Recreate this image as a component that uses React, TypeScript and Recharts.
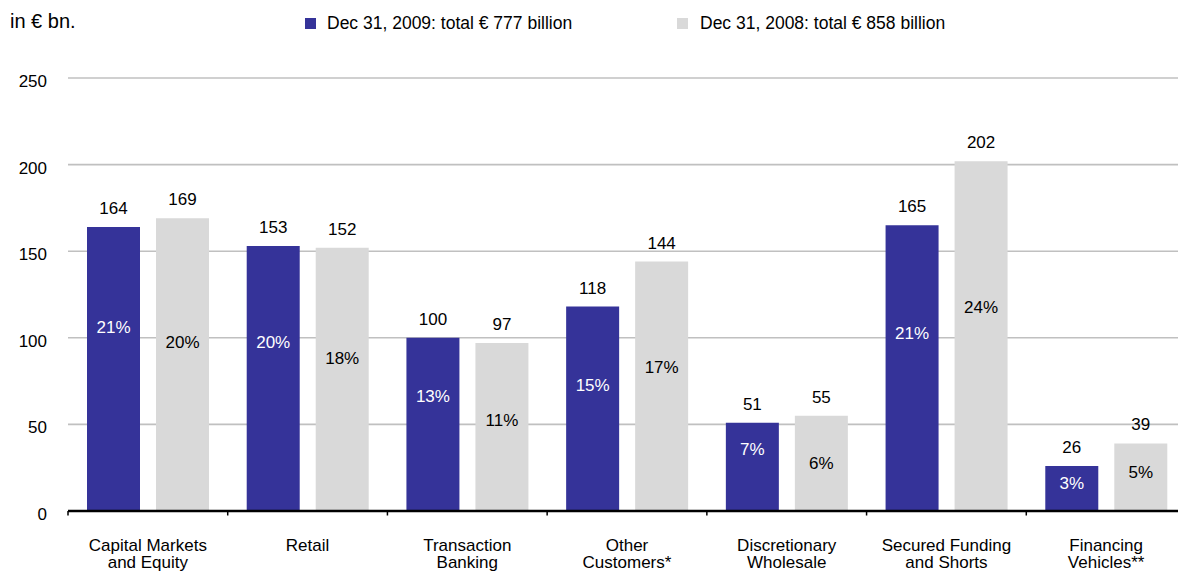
import React from "react";
import { BarChart, Bar, XAxis, YAxis, CartesianGrid, LabelList } from "recharts";

const catLine1 = ["Capital Markets", "Retail", "Transaction", "Other", "Discretionary", "Secured Funding", "Financing"];
const catLine2 = ["and Equity", "", "Banking", "Customers*", "Wholesale", "and Shorts", "Vehicles**"];
const values2009 = [164, 153, 100, 118, 51, 165, 26];
const values2008 = [169, 152, 97, 144, 55, 202, 39];
const share2009 = ["21%", "20%", "13%", "15%", "7%", "21%", "3%"];
const share2008 = ["20%", "18%", "11%", "17%", "6%", "24%", "5%"];
// level (in € bn.) at which each share label sits inside its bar
const shareAt2009 = [106.5, 97.8, 66.5, 72.7, 36.1, 103.0, 16.4];
const shareAt2008 = [97.8, 88.2, 52.5, 83.0, 27.9, 118.0, 22.8];
const yTicks = [0, 50, 100, 150, 200, 250];
const seriesNames = ["Dec 31, 2009: total € 777 billion", "Dec 31, 2008: total € 858 billion"];
const unitLabel = "in € bn.";

const BLUE = "#353399";
const GREY = "#d9d9d9";
const FONT = "'Liberation Sans', Arial, Helvetica, sans-serif";

const rows = catLine1.map((c, i) => ({
  cat: c,
  line2: catLine2[i],
  v2009: values2009[i],
  v2008: values2008[i],
  s2009: share2009[i],
  s2008: share2008[i],
  a2009: shareAt2009[i],
  a2008: shareAt2008[i],
}));

const XTick = (props: any) => {
  const { x, y, payload, index } = props;
  const half = payload && typeof payload.offset === "number" ? payload.offset : 0;
  const last = index === rows.length - 1;
  return (
    <g>
      <line x1={x - half} x2={x - half} y1={y} y2={y + 4.5} stroke="#000" strokeWidth={1.5} />
      {last && <line x1={x + half} x2={x + half} y1={y} y2={y + 4.5} stroke="#000" strokeWidth={1.5} />}
      <text x={x} y={y + 40} textAnchor="middle" fontSize={17} fill="#000" fontFamily={FONT}>
        {rows[index]?.cat}
      </text>
      <text x={x} y={y + 57} textAnchor="middle" fontSize={17} fill="#000" fontFamily={FONT}>
        {rows[index]?.line2}
      </text>
    </g>
  );
};

const YTick = (props: any) => {
  const { x, y, payload } = props;
  return (
    <text x={x - 21} y={y + 9} textAnchor="end" fontSize={17} fill="#000" fontFamily={FONT}>
      {payload.value}
    </text>
  );
};

const topLabel = (props: any) => {
  const { x, y, width, value } = props;
  return (
    <text x={Number(x) + Number(width) / 2} y={Number(y) - 13} textAnchor="middle" fontSize={17} fill="#000" fontFamily={FONT}>
      {value}
    </text>
  );
};

const shareLabel = (valKey: string, atKey: string, shareKey: string, color: string) => (props: any) => {
  const { x, y, width, height, index } = props;
  const row: any = rows[index];
  if (!row) return null;
  const h = Number(height);
  const py = Number(y) + h - (row[atKey] / row[valKey]) * h;
  return (
    <text x={Number(x) + Number(width) / 2} y={py + 6.2} textAnchor="middle" fontSize={17} fill={color} fontFamily={FONT}>
      {row[shareKey]}
    </text>
  );
};

export default function App() {
  return (
    <div style={{ position: "absolute", left: 0, top: 0, width: 1178, height: 573, overflow: "hidden", background: "#fff" }}>
      <BarChart
        width={1186}
        height={573}
        data={rows}
        margin={{ top: 78, right: 0, left: 0, bottom: 0 }}
        barSize={53}
        barGap={16}
      >
        <CartesianGrid horizontal vertical={false} stroke="#c0c0c0" strokeWidth={1.6} />
        <XAxis
          dataKey="cat"
          height={62}
          interval={0}
          tickLine={false}
          tickSize={0}
          tickMargin={0}
          axisLine={{ stroke: "#000", strokeWidth: 2.5 }}
          tick={<XTick />}
        />
        <YAxis
          width={68}
          domain={[0, 250]}
          ticks={yTicks}
          axisLine={false}
          tickLine={false}
          tickSize={0}
          tickMargin={0}
          tick={<YTick />}
        />
        <Bar dataKey="v2009" fill={BLUE} isAnimationActive={false}>
          <LabelList dataKey="v2009" content={topLabel} />
          <LabelList dataKey="s2009" content={shareLabel("v2009", "a2009", "s2009", "#ffffff")} />
        </Bar>
        <Bar dataKey="v2008" fill={GREY} isAnimationActive={false}>
          <LabelList dataKey="v2008" content={topLabel} />
          <LabelList dataKey="s2008" content={shareLabel("v2008", "a2008", "s2008", "#000000")} />
        </Bar>
      </BarChart>
      <svg width={1178} height={60} style={{ position: "absolute", left: 0, top: 0, pointerEvents: "none" }}>
        <text x={10} y={28} fontSize={20} fill="#000" fontFamily={FONT}>{unitLabel}</text>
        <rect x={305} y={18} width={11} height={11} fill={BLUE} />
        <text x={327} y={29} fontSize={17.5} fill="#000" fontFamily={FONT}>{seriesNames[0]}</text>
        <rect x={677} y={18} width={11} height={11} fill={GREY} />
        <text x={700} y={29} fontSize={17.5} fill="#000" fontFamily={FONT}>{seriesNames[1]}</text>
      </svg>
    </div>
  );
}
